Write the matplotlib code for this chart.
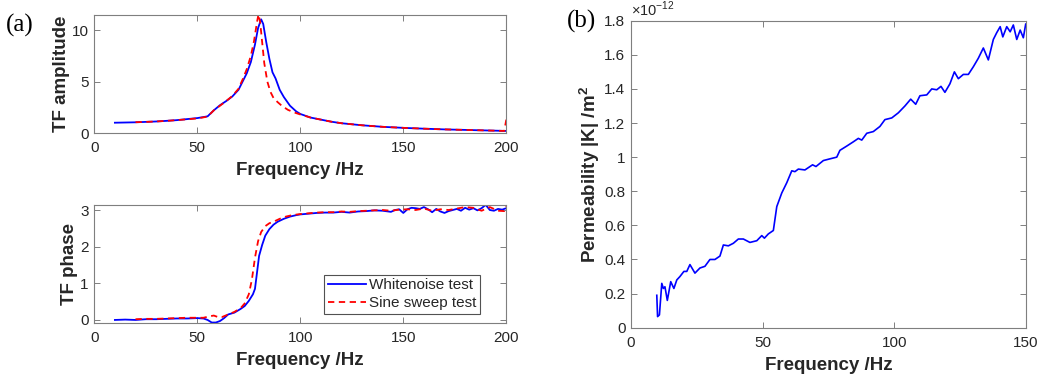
import matplotlib
matplotlib.use("Agg")
import matplotlib.pyplot as plt
from matplotlib.ticker import FuncFormatter

plt.rcParams['font.family'] = ['Liberation Sans', 'DejaVu Sans']
plt.rcParams['mathtext.fontset'] = 'custom'
plt.rcParams['mathtext.rm'] = 'Liberation Sans'
plt.rcParams['mathtext.bf'] = 'Liberation Sans:bold'

# ---------------- data ----------------
# TF amplitude - whitenoise test
amp_wn_f = [10, 15, 20, 25, 30, 35, 40, 45, 50, 53, 55, 58, 61, 64, 67, 70, 72, 74, 76, 78, 79.5, 81, 82, 83.5,
            85, 86.5, 88, 90, 92, 95, 98, 100, 105, 110, 115, 120, 130, 140, 150, 160, 170, 180, 190, 200]
amp_wn_v = [1.0, 1.02, 1.04, 1.08, 1.12, 1.18, 1.25, 1.35, 1.45, 1.55, 1.62, 2.2, 2.7, 3.1, 3.55, 4.2, 5.0, 5.8, 6.9,
            8.6, 10.2, 11.05, 10.6, 8.8, 7.2, 5.9, 5.3, 4.2, 3.5, 2.65, 2.1, 1.85, 1.5, 1.3, 1.1, 0.95, 0.75, 0.6,
            0.5, 0.42, 0.35, 0.3, 0.25, 0.2]
# TF amplitude - sine sweep test
amp_ss_f = [20, 25, 30, 35, 40, 45, 50, 53, 55, 58, 61, 64, 67, 70, 72, 74, 76, 77.5, 79, 79.7, 80.5, 81.5, 82.5,
            84, 85.5, 87, 89, 91, 94, 97, 100, 105, 110, 115, 120, 130, 140, 150, 160, 170, 180, 190, 199, 200]
amp_ss_v = [1.05, 1.08, 1.12, 1.18, 1.25, 1.33, 1.42, 1.52, 1.6, 2.2, 2.65, 3.1, 3.6, 4.3, 5.2, 6.2, 7.5, 8.9,
            10.8, 11.55, 10.8, 8.8, 6.8, 5.0, 4.0, 3.4, 3.0, 2.65, 2.25, 2.0, 1.8, 1.5, 1.3, 1.1, 0.95, 0.75, 0.6,
            0.5, 0.42, 0.35, 0.3, 0.25, 0.2, 1.3]

# TF phase - whitenoise test
ph_wn_f = [10, 15, 20, 25, 30, 35, 40, 45, 50, 53, 55, 57, 59, 61, 63, 65, 68, 71, 73, 75, 77, 78, 79, 80, 81.5,
           83, 85, 87, 89, 92, 95, 98, 100, 104, 108, 112, 116, 120, 124, 128, 132, 136, 140, 144, 146, 148,
           150, 152, 154, 156, 158, 160, 162, 164, 166, 168, 170, 172, 174, 176, 178, 180, 182, 184, 186, 188,
           190, 192, 194, 196, 198, 200]
ph_wn_v = [0.0, 0.01, 0.0, 0.02, 0.02, 0.03, 0.04, 0.04, 0.05, 0.04, 0.0, -0.07, -0.07, -0.03, 0.05, 0.15, 0.2,
           0.3, 0.38, 0.52, 0.7, 0.85, 1.3, 1.75, 2.05, 2.3, 2.48, 2.6, 2.68, 2.76, 2.82, 2.86, 2.88, 2.9, 2.92,
           2.93, 2.93, 2.95, 2.93, 2.96, 2.97, 2.99, 2.98, 2.95, 3.0, 3.02, 2.92, 3.02, 3.06, 3.05, 3.03, 3.08,
           3.02, 2.94, 3.03, 2.96, 2.92, 2.97, 3.0, 3.03, 2.98, 3.06, 3.01, 3.05, 2.99, 3.05, 3.14, 3.0, 2.98,
           3.03, 3.01, 3.05]
# TF phase - sine sweep test
ph_ss_f = [20, 25, 30, 35, 40, 45, 50, 53, 56, 58, 60, 62, 65, 68, 71, 73, 75, 76.5, 78, 79.5, 81, 83, 85, 87,
           90, 93, 96, 100, 104, 108, 112, 116, 120, 124, 128, 132, 136, 140, 144, 148, 152, 156, 160, 164,
           168, 172, 176, 180, 184, 188, 192, 196, 199, 200]
ph_ss_v = [0.02, 0.03, 0.03, 0.04, 0.05, 0.06, 0.06, 0.06, 0.1, 0.12, 0.08, 0.08, 0.15, 0.22, 0.32, 0.45, 0.7,
           1.1, 1.7, 2.15, 2.4, 2.56, 2.64, 2.68, 2.76, 2.82, 2.86, 2.89, 2.91, 2.93, 2.94, 2.94, 2.96, 2.95,
           2.97, 2.98, 2.99, 3.0, 2.98, 3.01, 3.02, 3.0, 3.04, 2.98, 3.02, 3.0, 3.04, 3.08, 3.06, 2.98, 3.08,
           2.98, 2.97, 3.12]

# Permeability (x 1e-12)
perm_f = [9.8, 10.1, 10.8, 11.7, 12.3, 12.9, 13.8, 15.1, 16.3, 17.4, 18.6, 20.1, 21.2, 22.4, 24.3, 26.2, 28.1,
          30.0, 31.9, 33.8, 35.1, 37.0, 38.9, 40.8, 42.7, 45.2, 47.8, 49.7, 50.7, 52.2, 54.1, 55.4, 57.3, 59.2,
          61.1, 62.3, 63.6, 66.1, 69.0, 70.3, 73.1, 75.6, 78.2, 79.4, 82.0, 84.5, 86.4, 87.7, 89.6, 92.1, 94.6,
          96.5, 99.1, 101.6, 104.1, 106.3, 108.2, 109.8, 112.4, 114.3, 116.2, 117.8, 119.3, 121.2, 122.9, 124.4,
          126.3, 128.2, 130.1, 132.0, 133.9, 135.8, 137.7, 139.0, 140.3, 141.3, 142.8, 144.1, 145.3, 146.6,
          147.9, 149.1, 150.0]
perm_v = [0.19, 0.065, 0.075, 0.26, 0.23, 0.24, 0.16, 0.27, 0.23, 0.28, 0.30, 0.33, 0.33, 0.37, 0.32, 0.35,
          0.36, 0.40, 0.40, 0.42, 0.485, 0.48, 0.495, 0.52, 0.52, 0.50, 0.51, 0.54, 0.525, 0.55, 0.57, 0.71,
          0.79, 0.85, 0.92, 0.915, 0.93, 0.925, 0.955, 0.945, 0.98, 0.99, 1.0, 1.04, 1.065, 1.09, 1.11, 1.10,
          1.14, 1.15, 1.18, 1.22, 1.23, 1.26, 1.30, 1.34, 1.31, 1.36, 1.365, 1.40, 1.395, 1.415, 1.38, 1.43,
          1.50, 1.46, 1.485, 1.485, 1.53, 1.58, 1.64, 1.57, 1.69, 1.73, 1.765, 1.705, 1.765, 1.735, 1.775, 1.69,
          1.745, 1.70, 1.78]

xticks_a = [0, 50, 100, 150, 200]
yticks_amp = [0, 5, 10]
yticks_ph = [0, 1, 2, 3]
xticks_b = [0, 50, 100, 150]
yticks_b = [0, 0.2, 0.4, 0.6, 0.8, 1.0, 1.2, 1.4, 1.6, 1.8]

# ---------------- figure ----------------
W, H = 1039, 376
fig = plt.figure(figsize=(W / 100, H / 100), dpi=100)

def px_axes(l, r, t, b):
    return fig.add_axes([l / W, 1 - b / H, (r - l) / W, (b - t) / H])

ax1 = px_axes(94.3, 506.3, 14.7, 133)
ax2 = px_axes(94.3, 506.3, 204.7, 322.7)
ax3 = px_axes(631, 1025.7, 20.7, 327.7)

gray = '#262626'
spine_c = '#7f7f7f'
tick_fs = 11
lab_fs = 13.5

def style(ax):
    for s in ax.spines.values():
        s.set_color(spine_c)
        s.set_linewidth(0.8)
    ax.tick_params(direction='in', top=True, right=True, length=4, width=0.7, color=spine_c,
                   labelsize=tick_fs, labelcolor=gray)
    ax.tick_params(axis='x', pad=6)
    ax.tick_params(axis='y', pad=4)

blue = '#0000ff'
red = '#ff0000'

ax1.plot(amp_wn_f, amp_wn_v, color=blue, lw=1.3)
ax1.plot(amp_ss_f, amp_ss_v, color=red, lw=1.3, ls=(0, (3.5, 2.5)))
ax1.set_xlim(0, 200)
ax1.set_ylim(0, 11.5)
ax1.set_xticks(xticks_a)
ax1.set_yticks(yticks_amp)
ax1.set_xlabel('Frequency /Hz', fontsize=lab_fs, fontweight='bold', color=gray, labelpad=5)
ax1.set_ylabel('TF amplitude', fontsize=lab_fs, fontweight='bold', color=gray, labelpad=1)
style(ax1)

l1, = ax2.plot(ph_wn_f, ph_wn_v, color=blue, lw=1.3, label='Whitenoise test')
l2, = ax2.plot(ph_ss_f, ph_ss_v, color=red, lw=1.3, ls=(0, (3.5, 2.5)), label='Sine sweep test')
ax2.set_xlim(0, 200)
ax2.set_ylim(-0.075, 3.145)
ax2.set_xticks(xticks_a)
ax2.set_yticks(yticks_ph)
ax2.set_xlabel('Frequency /Hz', fontsize=lab_fs, fontweight='bold', color=gray, labelpad=5)
ax2.set_ylabel('TF phase', fontsize=lab_fs, fontweight='bold', color=gray, labelpad=1.5)
style(ax2)
leg = ax2.legend(loc='lower right', bbox_to_anchor=(480 / W, 1 - 314 / H), bbox_transform=fig.transFigure,
                 fontsize=11, frameon=True, fancybox=False, edgecolor=gray, handlelength=2.5,
                 borderpad=0.25, labelspacing=0.25, handletextpad=0.2, borderaxespad=0)
leg.get_frame().set_linewidth(0.8)
for t in leg.get_texts():
    t.set_color(gray)

ax3.plot(perm_f, perm_v, color=blue, lw=1.2)
ax3.set_xlim(0, 150)
ax3.set_ylim(0, 1.8)
ax3.set_xticks(xticks_b)
ax3.set_yticks(yticks_b)
ax3.yaxis.set_major_formatter(FuncFormatter(lambda v, p: '%g' % round(v, 1)))
ax3.set_xlabel('Frequency /Hz', fontsize=lab_fs, fontweight='bold', color=gray, labelpad=5)
ax3.set_ylabel(r'Permeability |K| /m$^{\mathbf{2}}$', fontsize=lab_fs, fontweight='bold', color=gray,
               labelpad=1.5)
style(ax3)
ax3.text(0.0, 1.005, r'$\times10^{-12}$', transform=ax3.transAxes, fontsize=10.5, color=gray,
         ha='left', va='bottom')

fig.text(6 / W, 1 - 25 / H, '(a)', fontsize=18, family='Liberation Serif', va='center', ha='left', color='black')
fig.text(567 / W, 1 - 21 / H, '(b)', fontsize=18, family='Liberation Serif', va='center', ha='left', color='black')

fig.savefig('out.png', dpi=100)
